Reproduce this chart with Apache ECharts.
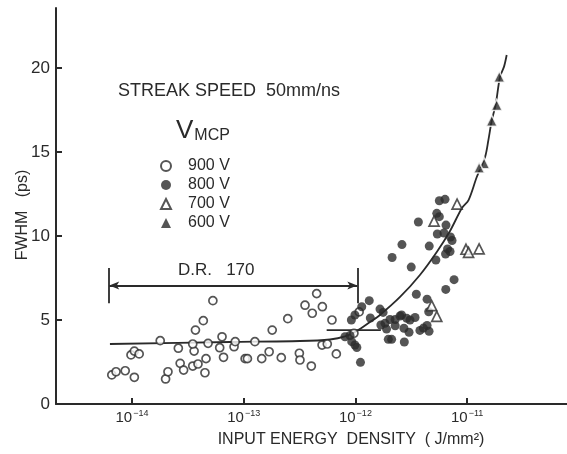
<!DOCTYPE html>
<html>
<head>
<meta charset="utf-8">
<script src="https://cdn.jsdelivr.net/npm/echarts@6/dist/echarts.min.js"></script>
<style>
html,body{margin:0;padding:0;background:#fff;}
#chart{width:567px;height:454px;}
</style>
</head>
<body>
<div id="chart"></div>
<script>
// ---- Data: [input energy density (J/mm^2), FWHM (ps)] ----
const v900 = [[6.6e-15,1.73],[7.2e-15,1.92],[8.7e-15,1.98],[1.05e-14,1.59],[9.8e-15,2.92],[1.05e-14,3.15],[1.16e-14,2.98],[1.79e-14,3.77],[2.0e-14,1.49],[2.1e-14,1.92],[2.6e-14,3.32],[2.7e-14,2.42],[2.9e-14,2.02],[3.5e-14,2.26],[3.9e-14,2.38],[3.6e-14,3.15],[3.5e-14,3.57],[3.7e-14,4.40],[4.35e-14,4.96],[5.3e-14,6.15],[4.6e-14,2.70],[4.5e-14,1.86],[4.8e-14,3.61],[6.4e-14,4.0],[6.1e-14,3.35],[6.6e-14,2.78],[8.2e-14,3.41],[8.4e-14,3.71],[1.03e-13,2.70],[1.08e-13,2.70],[1.26e-13,3.71],[1.45e-13,2.70],[1.69e-13,3.11],[1.80e-13,4.40],[2.17e-13,2.76],[2.48e-13,5.08],[3.15e-13,3.02],[3.19e-13,2.62],[3.54e-13,5.88],[4.11e-13,5.40],[4.03e-13,2.26],[4.5e-13,6.57],[5.06e-13,5.79],[5.03e-13,3.51],[5.6e-13,3.57],[6.17e-13,5.0],[6.75e-13,2.98],[9.7e-13,4.21],[1.08e-12,5.48]];
const v800 = [[5.64e-12,12.10],[6.34e-12,12.18],[5.35e-12,11.35],[5.64e-12,11.15],[3.66e-12,10.83],[6.47e-12,10.65],[5.41e-12,10.12],[6.21e-12,10.18],[7.09e-12,9.94],[7.33e-12,9.73],[2.61e-12,9.49],[4.58e-12,9.40],[6.68e-12,9.23],[7.03e-12,9.08],[6.41e-12,8.93],[2.13e-12,8.72],[5.25e-12,8.57],[3.16e-12,8.15],[7.64e-12,7.40],[6.44e-12,6.82],[3.51e-12,6.53],[4.38e-12,6.24],[1.33e-12,6.15],[1.14e-12,5.79],[1.66e-12,5.65],[1.77e-12,5.45],[4.53e-12,5.49],[9.9e-13,5.30],[9.2e-13,5.0],[1.36e-12,5.12],[2.04e-12,5.03],[2.27e-12,5.03],[2.51e-12,5.24],[2.59e-12,5.30],[2.88e-12,5.10],[3.08e-12,5.0],[3.42e-12,5.15],[1.69e-12,4.70],[1.84e-12,4.80],[1.90e-12,4.46],[2.27e-12,4.66],[2.72e-12,4.51],[3.02e-12,4.27],[3.78e-12,4.38],[4.06e-12,4.52],[4.38e-12,4.67],[4.56e-12,4.33],[1.97e-12,3.85],[2.11e-12,3.85],[2.74e-12,3.69],[8.07e-13,4.0],[8.95e-13,4.08],[9.27e-13,3.71],[9.9e-13,3.51],[1.03e-12,3.36],[1.11e-12,2.48]];
const v700 = [[8.13e-12,11.90],[5.06e-12,10.89],[9.77e-12,9.21],[1.03e-11,9.02],[1.28e-11,9.23],[4.82e-12,5.86],[5.35e-12,5.21]];
const v600 = [[1.94e-11,19.48],[1.84e-11,17.80],[1.66e-11,16.86],[1.42e-11,14.33],[1.28e-11,14.07]];
// fitted curves
const fitCurve = [[6.35e-15,3.57],[7.53e-14,3.69],[3.19e-13,3.75],[5.93e-13,3.84],[8.07e-13,4.02],[1.03e-12,4.35],[1.35e-12,4.88],[1.66e-12,5.30],[2.51e-12,6.37],[3.78e-12,7.68],[5.35e-12,9.05],[7.03e-12,10.30],[8.99e-12,11.67],[1.03e-11,12.14],[1.22e-11,13.51],[1.45e-11,14.72],[1.55e-11,15.71],[1.66e-11,16.86],[1.80e-11,17.80],[1.97e-11,19.48],[2.14e-11,20.08],[2.26e-11,20.77]];
const baseline800 = [[5.53e-13,4.40],[1.69e-12,4.40]];
// dynamic range annotation
const drX = [6.26e-15, 1.04e-12];
const drY = 7.05;
const drBar = [6.0, 8.1];
// axes
const xRangeExp = [-14.68, -10.106];
const xTickExps = [-14, -13, -12, -11];
const yRange = [0, 23.57];
const yStep = 5;

const L = v => Math.log10(v);
const conv = arr => arr.map(p => [L(p[0]), p[1]]);
const ink = '#2a2a2a';
const FONT = '"Liberation Sans", Arial, sans-serif';

const chart = echarts.init(document.getElementById('chart'), null, {renderer: 'canvas'});
const option = {
  animation: false,
  backgroundColor: '#fff',
  textStyle: {fontFamily: FONT, color: ink},
  grid: {left: 56, right: 0, top: 8, bottom: 50, containLabel: false},
  legend: {
    orient: 'vertical', left: 155, top: 153,
    itemWidth: 10, itemHeight: 10, itemGap: 3,
    textStyle: {fontSize: 16, color: ink, fontFamily: FONT, lineHeight: 16, padding: [0, 0, 0, 12]},
    data: ['900 V', '800 V', '700 V', {name: '600 V', itemStyle: {borderWidth: 0}}]
  },
  xAxis: {
    type: 'value', min: xRangeExp[0], max: xRangeExp[1],
    splitLine: {show: false},
    axisLine: {lineStyle: {color: ink, width: 2}},
    axisTick: {inside: true, length: 6, lineStyle: {color: ink, width: 2}, customValues: xTickExps},
    axisLabel: {
      customValues: xTickExps, margin: 5, color: ink,
      formatter: v => '{b|10}{s|\u2212' + Math.round(-v) + '}',
      rich: {
        b: {fontSize: 15, fontFamily: FONT, color: ink},
        s: {fontSize: 9, fontFamily: FONT, color: ink, padding: [0, 0, 9, 1]}
      }
    }
  },
  yAxis: {
    type: 'value', min: yRange[0], max: yRange[1], interval: yStep,
    splitLine: {show: false},
    axisLine: {lineStyle: {color: ink, width: 2}},
    axisTick: {inside: true, length: 6, lineStyle: {color: ink, width: 2}},
    axisLabel: {fontSize: 17, color: ink, margin: 6, fontFamily: FONT, showMaxLabel: false}
  },
  series: [
    {
      type: 'line', name: 'fit', data: conv(fitCurve), smooth: 0.3, showSymbol: false,
      lineStyle: {color: ink, width: 1.8}, z: 1, silent: true
    },
    {
      type: 'line', name: 'base800', data: conv(baseline800), showSymbol: false,
      lineStyle: {color: ink, width: 1.8}, z: 1, silent: true,
      markLine: {
        silent: true, animation: false,
        label: {show: false},
        lineStyle: {color: ink, width: 1.8, type: 'solid'},
        data: [
          [{coord: [L(drX[0]), drY], symbol: 'arrow'}, {coord: [L(drX[1]), drY], symbol: 'arrow'}],
          [{coord: [L(drX[0]), drBar[0]], symbol: 'none'}, {coord: [L(drX[0]), drBar[1]], symbol: 'none'}],
          [{coord: [L(drX[1]), drBar[0]], symbol: 'none'}, {coord: [L(drX[1]), drBar[1]], symbol: 'none'}]
        ],
        symbolSize: [6, 10]
      }
    },
    {
      type: 'scatter', name: '900 V', data: conv(v900), symbol: 'circle', symbolSize: 8,
      itemStyle: {color: '#fff', borderColor: ink, borderWidth: 1.7}, z: 3
    },
    {
      type: 'scatter', name: '800 V', data: conv(v800), symbol: 'circle', symbolSize: 9,
      itemStyle: {color: ink}, z: 3
    },
    {
      type: 'scatter', name: '700 V', data: conv(v700), symbol: 'triangle', symbolSize: 10,
      itemStyle: {color: '#fff', borderColor: ink, borderWidth: 1.7}, z: 3
    },
    {
      type: 'scatter', name: '600 V', data: conv(v600), symbol: 'triangle', symbolSize: 11,
      itemStyle: {color: ink, borderColor: '#fff', borderWidth: 1.5}, z: 3
    }
  ],
  graphic: [
    {type: 'text', x: 118, y: 91, style: {text: 'STREAK SPEED  50mm/ns', font: '18px ' + FONT, fill: ink, verticalAlign: 'middle'}},
    {type: 'text', x: 176, y: 131, style: {
      text: '{v|V}{s|MCP}', verticalAlign: 'middle',
      rich: {v: {fontSize: 26, fontFamily: FONT, fill: ink, color: ink}, s: {fontSize: 16, fontFamily: FONT, color: ink, fill: ink, padding: [10, 0, 0, 1]}}
    }},
    {type: 'text', x: 178, y: 270, style: {text: 'D.R.   170', font: '17px ' + FONT, fill: ink, verticalAlign: 'middle'}},
    {type: 'text', x: 351, y: 440, style: {text: 'INPUT ENERGY  DENSITY  ( J/mm\u00b2)', font: '16px ' + FONT, fill: ink, align: 'center', verticalAlign: 'middle'}},
    {type: 'text', x: 23, y: 215, rotation: Math.PI / 2, style: {text: 'FWHM   (ps)', font: '16px ' + FONT, fill: ink, align: 'center', verticalAlign: 'middle'}}
  ]
};
chart.setOption(option);
</script>
</body>
</html>
